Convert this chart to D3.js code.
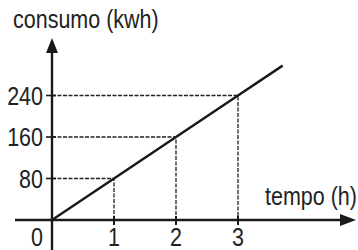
<!DOCTYPE html>
<html lang="en">
<head>
  <meta charset="UTF-8">
  <title>Consumo x tempo</title>
  <script src="https://d3js.org/d3.v7.min.js"></script>
  <style>
    body, html {
      margin: 0;
      padding: 0;
      background: #fff;
    }
    svg {
      display: block;
    }
    .lbl {
      font-family: "Liberation Sans", Arial, sans-serif;
      font-size: 25px;
      fill: #222;
    }
    .guide {
      stroke: #222;
      stroke-width: 1.3;
      stroke-dasharray: 4 1.5;
      fill: none;
    }
  </style>
</head>
<body>
  <svg id="chart" width="358" height="250"></svg>

  <script>
    // tick labels / values
    const xTicks = [1, 2, 3];
    const yTicks = [80, 160, 240];
    // the consumption line (tempo in h, consumo in kwh)
    const tempo = [0, 1, 2, 3, 3.72];
    const consumo = [0, 80, 160, 240, 297.6];

    const origin = { x: 52, y: 220 };
    const narrow = 0.86; // the original font is a condensed sans

    const svg = d3.select("#chart");

    const x = d3.scaleLinear().domain([0, 3]).range([origin.x, 238]);
    const y = d3.scaleLinear().domain([0, 240]).range([origin.y, 95.5]);

    // text helper: squeeze horizontally around the anchor point
    function label(px, py, str, anchor, dy) {
      svg.append("text")
        .attr("class", "lbl")
        .attr("transform", `translate(${px},${py}) scale(${narrow},1)`)
        .attr("text-anchor", anchor || "start")
        .attr("dy", dy || 0)
        .text(str);
    }

    // dashed guide lines to each point
    xTicks.forEach((t, i) => {
      const v = yTicks[i];
      svg.append("path")
        .attr("class", "guide")
        .attr("d", `M${origin.x},${y(v)}H${x(t)}V${origin.y}`);
    });

    // axes
    svg.append("line")
      .attr("x1", 15).attr("x2", 342)
      .attr("y1", origin.y).attr("y2", origin.y)
      .attr("stroke", "#1a1a1a").attr("stroke-width", 2.4);
    svg.append("line")
      .attr("x1", origin.x).attr("x2", origin.x)
      .attr("y1", 250).attr("y2", 50)
      .attr("stroke", "#1a1a1a").attr("stroke-width", 2.4);

    // arrow heads
    svg.append("path")
      .attr("d", `M356,${origin.y}L340,${origin.y - 6}L340,${origin.y + 6}Z`)
      .attr("fill", "#1a1a1a");
    svg.append("path")
      .attr("d", `M${origin.x},38L${origin.x - 6},53L${origin.x + 6},53Z`)
      .attr("fill", "#1a1a1a");

    // ticks
    svg.selectAll(".xtick")
      .data(xTicks)
      .enter().append("line")
      .attr("x1", d => x(d)).attr("x2", d => x(d))
      .attr("y1", origin.y - 4).attr("y2", origin.y + 5)
      .attr("stroke", "#1a1a1a").attr("stroke-width", 2);
    svg.selectAll(".ytick")
      .data(yTicks)
      .enter().append("line")
      .attr("x1", origin.x - 6).attr("x2", origin.x + 4)
      .attr("y1", d => y(d)).attr("y2", d => y(d))
      .attr("stroke", "#1a1a1a").attr("stroke-width", 1.6);

    // the line
    const line = d3.line()
      .x((d, i) => x(tempo[i]))
      .y(d => y(d));
    svg.append("path")
      .datum(consumo)
      .attr("d", line)
      .attr("fill", "none")
      .attr("stroke", "#1a1a1a")
      .attr("stroke-width", 2.5);

    // tick labels
    xTicks.forEach(t => label(x(t), 246, t, "middle"));
    label(37, 246, "0", "middle");
    yTicks.forEach(v => label(43, y(v), v, "end", "0.36em"));

    // axis titles
    label(13, 28, "consumo (kwh)");
    label(265, 205, "tempo (h)");
  </script>
</body>
</html>
